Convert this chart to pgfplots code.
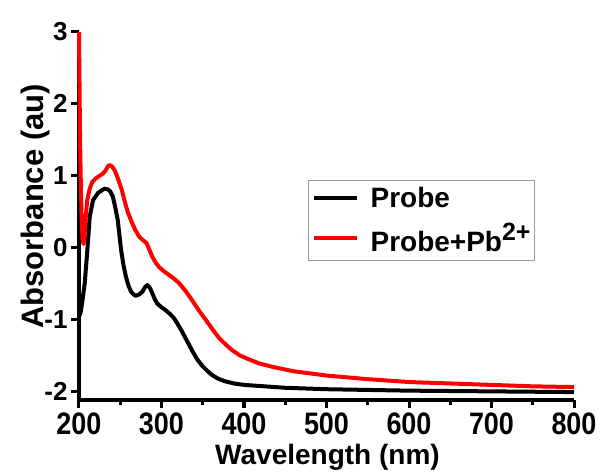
\documentclass[border=0pt]{standalone}
\usepackage{fontspec}
\setmainfont{Liberation Sans}
\newfontfamily\xtfont[FakeStretch=0.87]{Liberation Sans}
\usepackage{pgfplots}
\pgfplotsset{compat=1.18}

\pgfplotstableread{
x y
200 -0.96
202 -0.90
204 -0.75
207 -0.49
210 -0.05
213 0.43
217 0.66
223 0.76
228 0.80
231 0.82
235 0.81
238 0.78
241 0.71
244 0.56
247 0.38
251 -0.03
254 -0.25
257 -0.41
260 -0.53
263 -0.61
266 -0.65
269 -0.67
273 -0.65
277 -0.61
280 -0.55
283 -0.52
286 -0.56
289 -0.64
292 -0.72
295 -0.78
300 -0.83
305 -0.87
310 -0.92
315 -0.98
320 -1.07
325 -1.17
331 -1.30
337 -1.43
343 -1.55
349 -1.64
355 -1.71
361 -1.77
368 -1.82
377 -1.86
388 -1.89
400 -1.91
425 -1.93
450 -1.95
500 -1.97
550 -1.98
600 -1.99
700 -2.00
800 -2.01
}\probe

\pgfplotstableread{
x y
200 3.00
200.6 2.30
201.3 1.50
202.2 0.90
203.2 0.40
204.3 0.12
205.5 0.05
206.7 0.15
208 0.40
210 0.66
213 0.82
216 0.91
220 0.96
225 1.00
229 1.03
232 1.07
235 1.13
237 1.15
240 1.13
243 1.08
246 1.00
249 0.90
252 0.80
255 0.66
259 0.50
263 0.38
268 0.25
273 0.15
278 0.10
282 0.06
285 -0.02
289 -0.13
293 -0.21
297 -0.27
303 -0.33
309 -0.38
315 -0.43
321 -0.49
329 -0.60
337 -0.73
345 -0.87
354 -1.01
362 -1.14
370 -1.26
378 -1.35
386 -1.43
395 -1.50
405 -1.55
418 -1.61
435 -1.66
460 -1.72
500 -1.78
550 -1.83
600 -1.87
650 -1.89
700 -1.91
750 -1.93
800 -1.94
}\probepb

\begin{document}
\begin{tikzpicture}
\path[use as bounding box] (-79pt,-73pt) rectangle (521pt,400pt);
\begin{axis}[
  at={(0,0)}, anchor=south west,
  scale only axis, width=495pt, height=368pt,
  xmin=200, xmax=800, ymin=-2.12, ymax=3,
  axis x line*=bottom, axis y line*=left,
  axis line style={line width=3.5pt, -},
  xtick={200,300,...,800}, minor xtick={250,350,...,750},
  ytick={-2,-1,0,1,2,3}, yticklabels={-2,-1,0,1,2,3},
  xticklabels={200,300,400,500,600,700,800},
  tick align=outside,
  major tick length=8pt, minor tick length=5pt,
  tick style={line width=3pt, black},
  xticklabel style={font=\xtfont\fontsize{31}{31}\bfseries, anchor=north, yshift=-1pt},
  yticklabel style={font=\fontsize{26}{26}\bfseries, anchor=east},
  xlabel={Wavelength (nm)}, ylabel={Absorbance (au)},
  xlabel style={font=\fontsize{28}{28}\bfseries, at={(axis description cs:0.502,0)}, anchor=base, yshift=-65pt},
  ylabel style={font=\fontsize{31}{31}\bfseries, at={(axis description cs:-0.0727,0.526)}, anchor=base},
  clip=false,
  legend style={at={(0.463,0.598)}, anchor=north west, draw=gray!80, line width=0.8pt,
    font=\fontsize{28}{28}\bfseries, inner xsep=3pt, inner ysep=6pt,
    nodes={inner sep=1pt}, row sep=12pt, column sep=11pt},
  legend cell align=left,
  legend image code/.code={\draw[#1] (0pt,0pt) -- (43pt,0pt);},
]
\addplot[black, line width=4pt, line join=round] table[x=x,y=y] {\probe};
\addlegendentry{Probe}
\addplot[red, line width=4pt, line join=round] table[x=x,y=y] {\probepb};
\addlegendentry{Probe+Pb\raisebox{11pt}{\fontsize{25}{25}\selectfont 2+}}
\end{axis}
\end{tikzpicture}
\end{document}
